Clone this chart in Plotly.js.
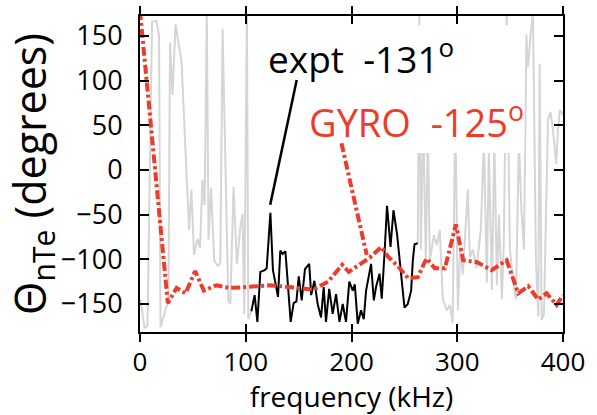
<!DOCTYPE html>
<html><head><meta charset="utf-8">
<script src="https://cdn.plot.ly/plotly-3.0.1.min.js"></script>
<style>html,body{margin:0;padding:0;background:#fff}#chart{width:597px;height:415px}</style>
</head><body><div id="chart"></div>
<script>
// ---- data ----
const xTickVals = [0, 100, 200, 300, 400];
const yTickVals = [-150, -100, -50, 0, 50, 100, 150];

// gray: low-coherence part of measured phase (below ~105 kHz)
const grayFreqLow = [0.5,4.3,7.1,11.4,15.6,18.0,19.4,23.2,26.9,28.4,30.8,33.6,39.3,46.4,48.6,51.1,54.4,56.8,59.0,61.1,63.2,64.8,67.2,70.1,73.4,75.9,78.1,83.5,85.4,88.5,91.6,94.9,97.0,98.6,101.1,102.4,105.3];
const grayValLow  = [-145,-177,-174,166,167,150,-176,-159,-145,143,84,163,121,-67,-22,-95,-77,-87,-11,-39,174,-78,-20,-101,-107,-105,158,-146,-150,-19,-105,-64,-49,-161,179,-167,-158];

// gray: low-coherence part above ~263 kHz
const grayFreqHigh = [262.7,264.1,265.6,267.9,270.3,272.2,274.1,277.9,280.7,283.5,286.4,290.2,293.0,295.6,298.2,300.6,302.9,305.3,308.2,310.0,311.9,314.8,318.1,322.3,325.2,328.0,329.9,332.8,335.1,337.5,339.4,342.2,344.1,346.7,349.8,352.7,355.5,358.3,360.5,363.1,365.4,366.8,369.4,371.6,374.4,376.6,377.9,379.8,382.0,384.4,385.8,388.1,390.5,393.6,395.2,397.1,400.0];
const grayValHigh  = [-82,179,-89,56,-103,45,-101,-73,-84,-67,-145,-157,-151,-171,67,-157,-86,-117,-58,-22,-98,-89,-110,-67,34,-126,23,-134,34,-129,-50,-145,-78,179,-89,-123,-145,34,-41,-89,152,115,152,177,-101,-164,119,-168,-161,-11,56,65,45,7,45,67,62];

// black: experiment
const exptFreq = [105.3,108.4,111.0,113.8,117.9,119.8,123.3,125.7,128.3,130.5,132.7,134.9,137.5,142.5,145.3,147.9,150.1,152.9,156.0,160.0,161.9,164.9,168.0,171.2,173.7,175.9,178.9,182.2,185.4,188.6,191.7,194.8,197.9,201.2,203.1,205.9,209.0,211.6,213.8,218.5,221.1,223.2,226.5,228.6,231.2,233.6,236.9,239.7,243.1,246.9,250.1,253.2,256.4,258.0,259.6,262.7];
const exptVal  = [-158,-140,-170,-114,-112,-110,-48,-112,-128,-142,-90,-94,-91,-170,-149,-147,-119,-146,-111,-105,-140,-124,-150,-165,-131,-170,-133,-161,-139,-170,-150,-170,-125,-135,-128,-172,-157,-167,-135,-105,-146,-131,-116,-144,-94,-40,-86,-45,-72,-120,-154,-150,-135,-101,-83,-82];

// red: GYRO
const gyroFreq = [0,26.3,34.6,43.1,52.1,60.4,72.1,84.7,100.5,122.6,141.5,163.6,177.8,191.2,197.4,207.8,217.3,228.3,234.6,244.1,253.5,262.7,270.9,278.8,288.3,298.7,305.6,318.3,332.5,346.7,357.7,367.1,376.6,384.5,394.0,400.0];
const gyroVal  = [178,-149,-132,-138,-113,-135,-129,-132,-131,-129,-131,-134,-125,-106,-114,-106,-98,-86,-97,-108,-121,-120,-99,-110,-110,-61,-101,-103,-112,-101,-138,-130,-145,-138,-151,-140];

const exptLabel = 'expt\u00a0\u00a0-131<sup>o</sup>';
const gyroLabel = 'GYRO\u00a0\u00a0-125<sup>o</sup>';

// ---- styles ----
const FONT = '"Open Sans", "Noto Sans", sans-serif';
const RED = '#ee3b2c';
const GRAY = '#d5d5d5';
const DASHDOT = '9px,3px,3px,3px';

const traces = [
  {x: grayFreqLow, y: grayValLow, mode: 'lines', line: {color: GRAY, width: 2}, hoverinfo: 'skip'},
  {x: grayFreqHigh, y: grayValHigh, mode: 'lines', line: {color: GRAY, width: 2}, hoverinfo: 'skip'},
  {x: exptFreq, y: exptVal, mode: 'lines', line: {color: '#000', width: 2}},
  {x: gyroFreq, y: gyroVal, mode: 'lines', line: {color: RED, width: 4, dash: DASHDOT}},
  {x: [0, 400], y: [null, null], xaxis: 'x2', mode: 'lines', hoverinfo: 'skip'}
];

const axisCommon = {showgrid: false, zeroline: false, tickcolor: '#000', tickwidth: 2};

const layout = {
  width: 597, height: 415,
  margin: {l: 140, r: 34, t: 16, b: 83},
  paper_bgcolor: '#fff', plot_bgcolor: '#fff',
  showlegend: false,
  font: {family: FONT, color: '#000'},
  xaxis: Object.assign({}, axisCommon, {
    range: [0, 400], tickvals: xTickVals, ticks: 'inside', ticklen: 8,
    showline: true, linewidth: 2, linecolor: '#000', mirror: 'ticks',
    tickfont: {size: 26}, ticklabelstandoff: 6,
    title: {text: 'frequency (kHz)', font: {size: 28}, standoff: 4}
  }),
  xaxis2: Object.assign({}, axisCommon, {
    overlaying: 'x', anchor: 'y', range: [0, 400], tickvals: xTickVals,
    ticks: 'outside', ticklen: 9, mirror: 'ticks', showline: false, showticklabels: false
  }),
  yaxis: Object.assign({}, axisCommon, {
    range: [-181.3, 172.4], tickvals: yTickVals, ticks: 'inside', ticklen: 9,
    showline: true, linewidth: 2, linecolor: '#000', mirror: 'ticks',
    tickfont: {size: 27}, ticklabelstandoff: 10,
    title: {text: 'Θ<sub>nTe</sub> (degrees)', font: {size: 43}, standoff: 6}
  }),
  shapes: [
    {type: 'rect', xref: 'x', yref: 'y', x0: 115, x1: 363.5, y0: 19, y1: 162,
     fillcolor: '#fff', line: {width: 0}, layer: 'above'},
    {type: 'line', xref: 'x', yref: 'y', x0: 148.2, y0: 100.8, x1: 123.1, y1: -39,
     line: {color: '#000', width: 2.5}, layer: 'above'},
    {type: 'line', xref: 'x', yref: 'y', x0: 190.5, y0: 30, x1: 214.4, y1: -95,
     line: {color: RED, width: 4, dash: DASHDOT}, layer: 'above'}
  ],
  annotations: [
    {xref: 'x', yref: 'y', x: 209.0, y: 127, text: exptLabel, showarrow: false,
     xanchor: 'center', yanchor: 'middle', font: {size: 37, color: '#000'}},
    {xref: 'x', yref: 'y', x: 261.3, y: 55, text: gyroLabel, showarrow: false,
     xanchor: 'center', yanchor: 'middle', font: {size: 38, color: RED}}
  ]
};

Plotly.newPlot('chart', traces, layout, {displayModeBar: false, staticPlot: true});
</script>
</body></html>
